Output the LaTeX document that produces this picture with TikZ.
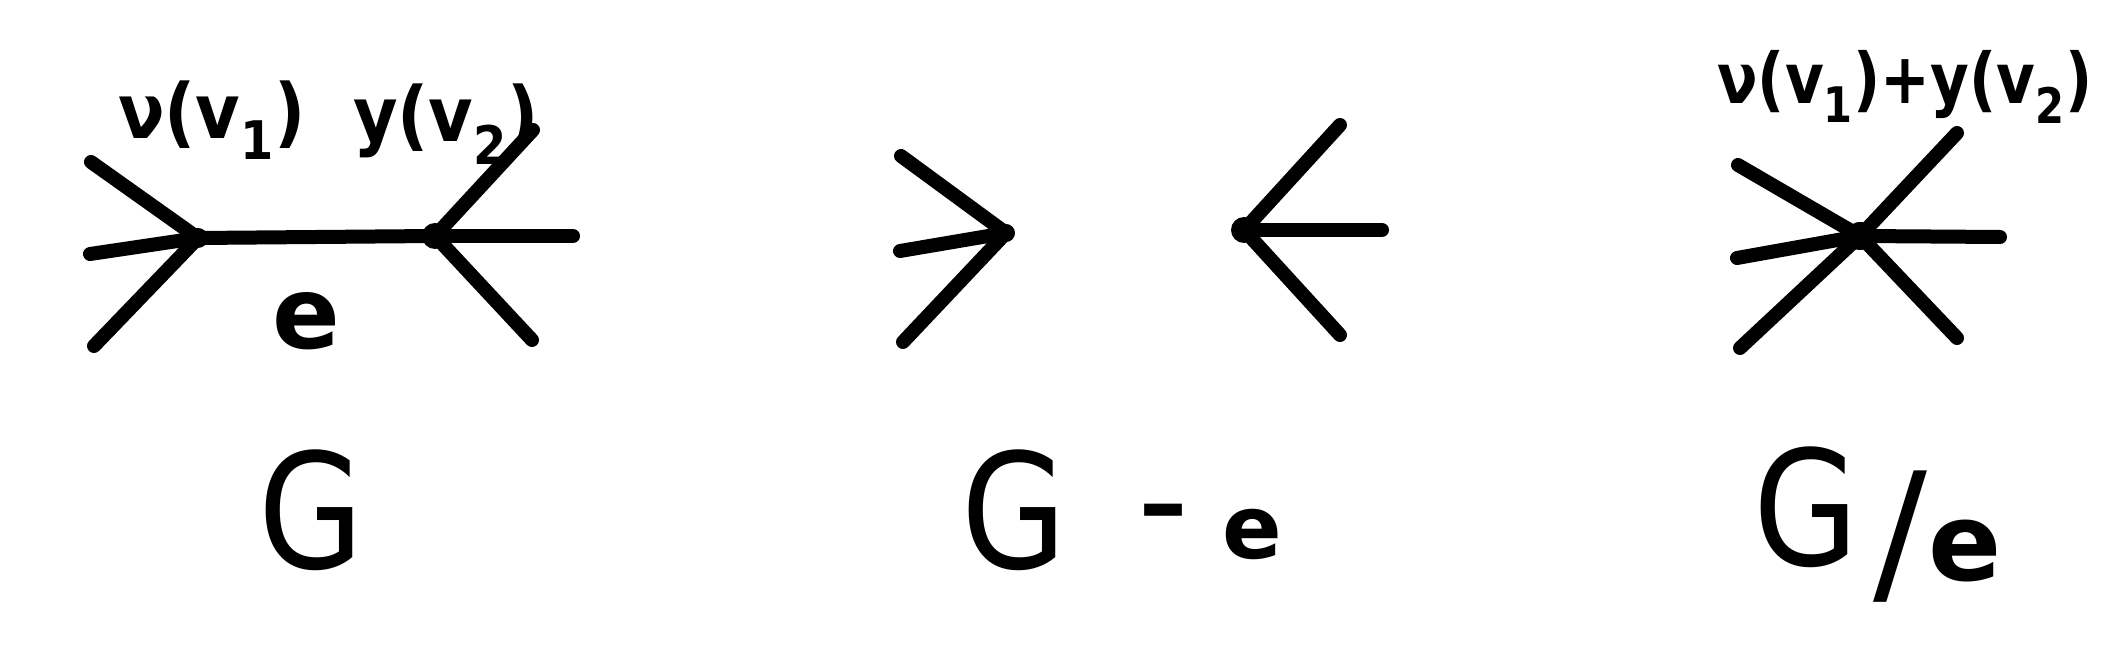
\documentclass[tikz,border=0pt]{standalone}
\usepackage{fontspec}
\setmainfont{DejaVu Sans}
\begin{document}
\begin{tikzpicture}[x=0.5pt,y=-0.5pt,
  edge/.style={line width=7pt,line cap=round},
  vtx/.style={circle,fill=black,inner sep=0pt,minimum size=12pt},
  lbl/.style={inner sep=0pt,font=\fontsize{38}{40}\selectfont\bfseries},
  big/.style={inner sep=0pt,xscale=0.85,font=\fontsize{80}{84}\selectfont},
  med/.style={inner sep=0pt,font=\fontsize{50}{54}\selectfont\bfseries}]
\useasboundingbox (0,0) rectangle (2120,651);
% ---- G ----
\node[vtx,minimum size=10pt] (a1) at (198,238) {};
\node[vtx,minimum size=13pt] (a2) at (435,236) {};
\coordinate (a1u) at (91,162);
\coordinate (a1m) at (90,254);
\coordinate (a1d) at (94,346);
\coordinate (a2u) at (533,130);
\coordinate (a2r) at (573,236);
\coordinate (a2d) at (532,340);
\draw[edge] (a1u) -- (a1.center);
\draw[edge] (a1m) -- (a1.center);
\draw[edge] (a1d) -- (a1.center);
\draw[edge] (a1.center) -- (a2.center);
\draw[edge] (a2.center) -- (a2u);
\draw[edge] (a2.center) -- (a2r);
\draw[edge] (a2.center) -- (a2d);
\node[lbl,xscale=0.9] (l1) at (212,120) {ν(v\textsubscript{1})};
\node[lbl,xscale=0.9] (l2) at (446,124) {y(v\textsubscript{2})};
\node[med] (le) at (306,321) {e};
\node[big] (g1) at (311,510) {G};
% ---- G - e ----
\node[vtx,minimum size=9pt] (b1) at (1006,233) {};
\node[vtx,minimum size=13pt] (b2) at (1244,230) {};
\coordinate (b1u) at (901,156);
\coordinate (b1m) at (900,251);
\coordinate (b1d) at (903,342);
\coordinate (b2u) at (1340,125);
\coordinate (b2r) at (1382,230);
\coordinate (b2d) at (1340,335);
\draw[edge] (b1u) -- (b1.center);
\draw[edge] (b1m) -- (b1.center);
\draw[edge] (b1d) -- (b1.center);
\draw[edge] (b2.center) -- (b2u);
\draw[edge] (b2.center) -- (b2r);
\draw[edge] (b2.center) -- (b2d);
\node[big] (g2) at (1014,510) {G};
\node[inner sep=0pt,anchor=base,font=\fontsize{48}{54}\selectfont\bfseries] (minus) at (1163,537) {–};
\node[inner sep=0pt,font=\fontsize{44}{48}\selectfont\bfseries] (e2) at (1252,534) {e};
% ---- G / e ----
\node[vtx,minimum size=14pt] (c) at (1860,236) {};
\coordinate (cu1) at (1738,165);
\coordinate (cm1) at (1737,258);
\coordinate (cd1) at (1740,348);
\coordinate (cu2) at (1957,133);
\coordinate (cr2) at (2000,237);
\coordinate (cd2) at (1957,338);
\draw[edge] (cu1) -- (c.center);
\draw[edge] (cm1) -- (c.center);
\draw[edge] (cd1) -- (c.center);
\draw[edge] (c.center) -- (cu2);
\draw[edge] (c.center) -- (cr2);
\draw[edge] (c.center) -- (cd2);
\node[lbl,xscale=0.85,font=\fontsize{35}{38}\selectfont\bfseries] (l3) at (1905,87) {ν(v\textsubscript{1})+y(v\textsubscript{2})};
\node[big] (g3) at (1806,507) {G};
\node[inner sep=0pt,font=\fontsize{80}{84}\selectfont] (sl) at (1900,537) {/};
\node[inner sep=0pt,font=\fontsize{54}{60}\selectfont\bfseries] (e3) at (1965,551) {e};
\end{tikzpicture}
\end{document}
